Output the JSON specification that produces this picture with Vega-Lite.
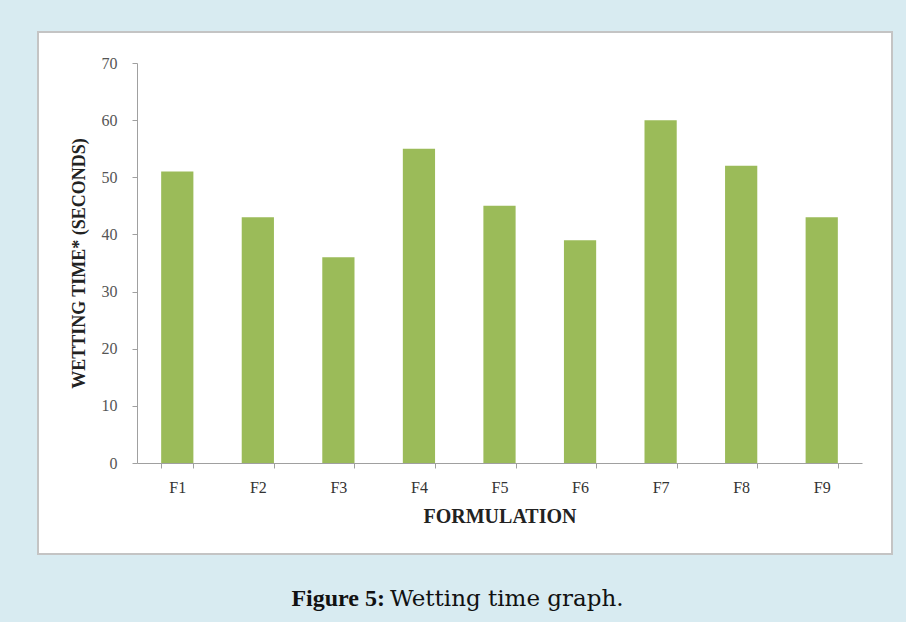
{
  "$schema": "https://vega.github.io/schema/vega-lite/v6.json",
  "width": 854,
  "height": 522,
  "padding": {"left": 38, "top": 32, "right": 14, "bottom": 11},
  "autosize": {"type": "pad"},
  "background": "#d8ebf1",
  "config": {"view": {"fill": "white", "stroke": "#c4c4c4", "strokeWidth": 2}},
  "data": {
    "values": [
      {"formulation": "F1", "time": 51},
      {"formulation": "F2", "time": 43},
      {"formulation": "F3", "time": 36},
      {"formulation": "F4", "time": 55},
      {"formulation": "F5", "time": 45},
      {"formulation": "F6", "time": 39},
      {"formulation": "F7", "time": 60},
      {"formulation": "F8", "time": 52},
      {"formulation": "F9", "time": 43}
    ]
  },
  "layer": [
    {
      "mark": {"type": "bar", "color": "#9bbb59"},
      "encoding": {
        "x": {
          "field": "formulation",
          "type": "nominal",
          "sort": null,
          "scale": {"range": [99, 824], "paddingInner": 0.6, "paddingOuter": 0.3},
          "axis": {
            "title": "FORMULATION",
            "offset": -91,
            "grid": false,
            "domainColor": "#a0a0a0",
            "tickColor": "#a0a0a0",
            "tickSize": 5,
            "tickBand": "extent",
            "labelAngle": 0,
            "labelFont": "Liberation Serif",
            "labelFontSize": 16,
            "labelColor": "#333333",
            "labelPadding": 11,
            "titleFont": "Liberation Serif",
            "titleFontSize": 20,
            "titleFontWeight": "bold",
            "titleColor": "#222222",
            "titlePadding": 11
          }
        },
        "y": {
          "field": "time",
          "type": "quantitative",
          "scale": {"domain": [0, 70], "range": [431, 31], "nice": false},
          "axis": {
            "title": "WETTING TIME* (SECONDS)",
            "offset": -99,
            "values": [0, 10, 20, 30, 40, 50, 60, 70],
            "grid": false,
            "domainColor": "#a0a0a0",
            "tickColor": "#a0a0a0",
            "tickSize": 5,
            "labelFont": "Liberation Serif",
            "labelFontSize": 16,
            "labelColor": "#555555",
            "labelPadding": 15,
            "titleFont": "Liberation Serif",
            "titleFontSize": 18,
            "titleFontWeight": "bold",
            "titleColor": "#222222",
            "titlePadding": 13
          }
        }
      }
    },
    {
      "data": {"values": [{"t": "Figure 5:"}]},
      "mark": {"type": "text", "font": "Liberation Serif", "fontWeight": "bold", "fontSize": 24, "align": "right", "baseline": "alphabetic", "dx": -34, "color": "#111111"},
      "encoding": {
        "x": {"datum": "F4"},
        "y": {"datum": -25},
        "text": {"field": "t"}
      }
    },
    {
      "data": {"values": [{"t": "Wetting time graph."}]},
      "mark": {"type": "text", "font": "DejaVu Serif", "fontSize": 23, "align": "left", "baseline": "alphabetic", "dx": -29, "color": "#111111"},
      "encoding": {
        "x": {"datum": "F4"},
        "y": {"datum": -25},
        "text": {"field": "t"}
      }
    }
  ]
}
